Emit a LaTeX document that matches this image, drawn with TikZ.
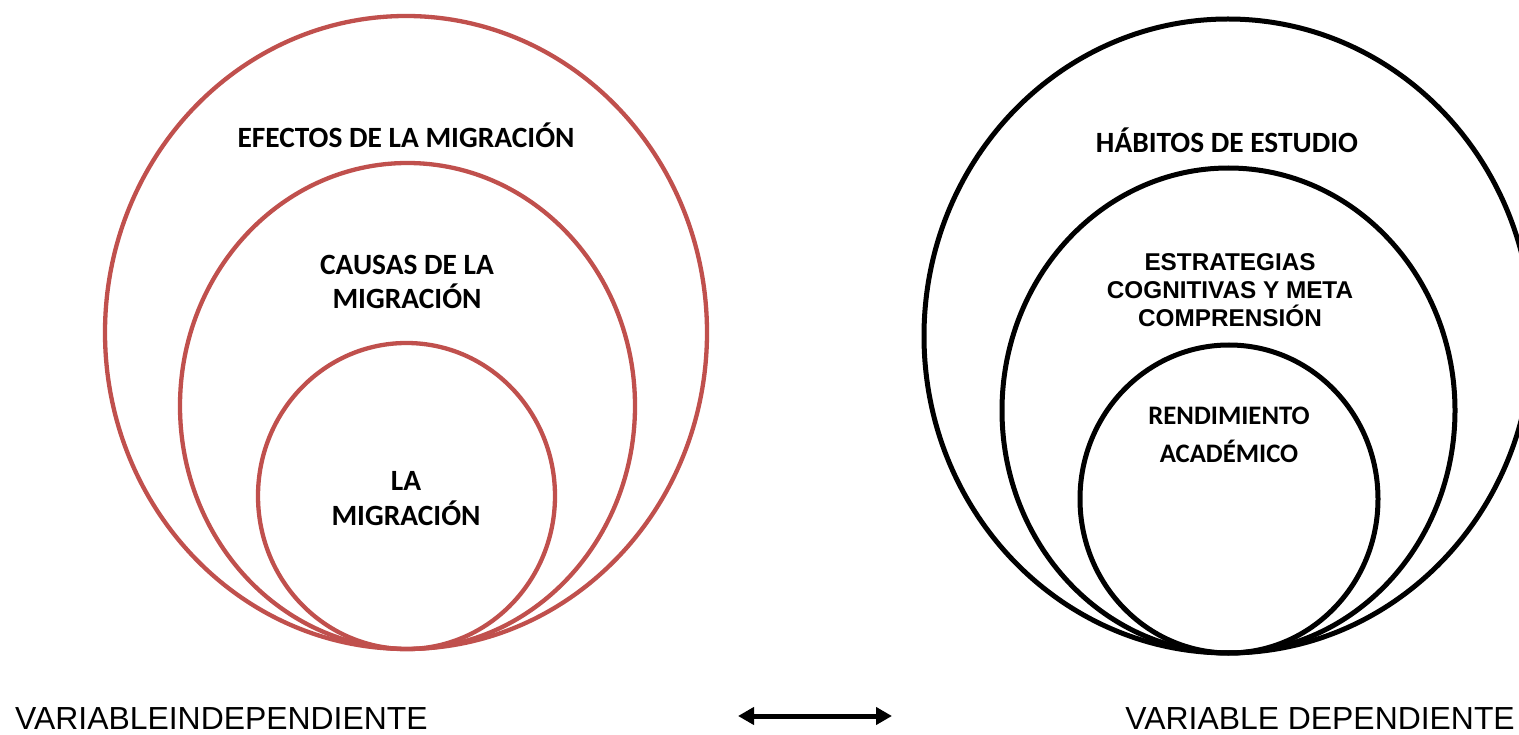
\documentclass[tikz,border=0pt]{standalone}
\usepackage{fontspec}
\setmainfont{Liberation Sans}
\newfontfamily\calibri{Carlito}
\usetikzlibrary{arrows.meta}
\definecolor{redring}{HTML}{C0504D}
\tikzset{
  redc/.style={draw=redring, line width=4.3pt},
  blackc/.style={draw=black, line width=5pt},
  lblc/.style={font=\calibri\bfseries\fontsize{29.4}{34.5}\selectfont, align=center, inner sep=0pt},
  lbla/.style={font=\bfseries\fontsize{24.3}{28}\selectfont, align=center, inner sep=0pt},
  varlbl/.style={font=\fontsize{31.9}{34}\selectfont, inner sep=0pt, anchor=base west},
}
\begin{document}
\begin{tikzpicture}[x=1pt,y=-1pt]
\useasboundingbox[fill=white] (0,0) rectangle (1519,735);
% left rings
\draw[redc] (406,332.5) ellipse [x radius=301, y radius=316.5];
\draw[redc] (407.5,406) ellipse [x radius=227.5, y radius=243];
\draw[redc] (406.5,496) ellipse [x radius=148.5, y radius=153];
% right rings
\draw[blackc] (1228,336) ellipse [x radius=304, y radius=317];
\draw[blackc] (1228.5,410.5) ellipse [x radius=226.5, y radius=242.5];
\draw[blackc] (1229,499) ellipse [x radius=149, y radius=154];
% labels
\node[lblc] (efectos) at (406,135) {EFECTOS DE LA MIGRACIÓN};
\node[lblc] (causas) at (407,282) {CAUSAS DE LA\\MIGRACIÓN};
\node[lblc] (migr) at (406,498.5) {LA\\MIGRACIÓN};
\node[lblc] (habitos) at (1227,140) {HÁBITOS DE ESTUDIO};
\node[lbla] (estrat) at (1230,290) {ESTRATEGIAS\\COGNITIVAS Y META\\COMPRENSIÓN};
\node[lblc, font=\calibri\bfseries\fontsize{26.7}{38}\selectfont] (rend) at (1229,435) {RENDIMIENTO\\ACADÉMICO};
\node[varlbl] (vi) at (15,729) {VARIABLEINDEPENDIENTE};
\node[varlbl, anchor=base east] (vd) at (1515,729) {VARIABLE DEPENDIENTE};
% arrow
\coordinate (aL) at (738,716);
\coordinate (aR) at (892,716);
\draw[line width=5pt, {Triangle[length=16pt,width=17pt]}-{Triangle[length=16pt,width=17pt]}] (aL) -- (aR);
\end{tikzpicture}
\end{document}
